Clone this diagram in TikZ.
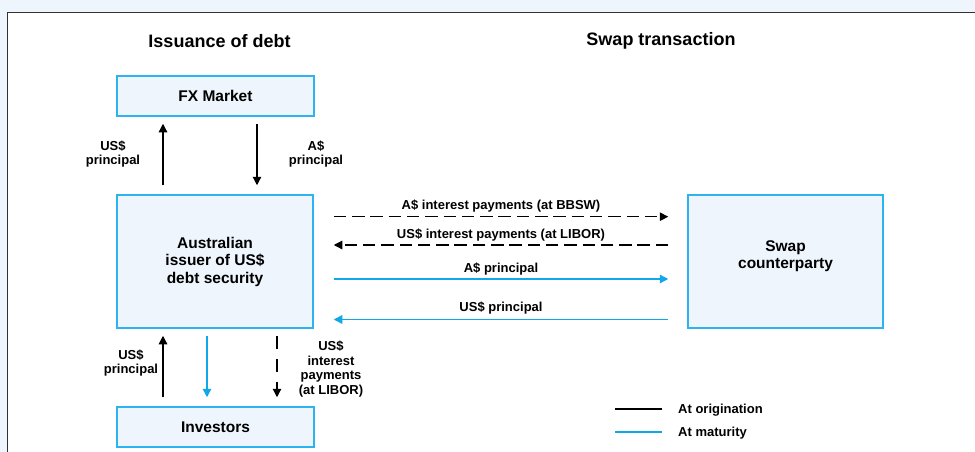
\documentclass[tikz,border=0pt]{standalone}
\usepackage{fontspec}
\setmainfont{Liberation Sans}
\usetikzlibrary{arrows.meta}
\definecolor{boxblue}{RGB}{45,180,240}
\definecolor{boxfill}{RGB}{238,245,252}
\definecolor{arrblue}{RGB}{16,168,233}
\definecolor{bgblue}{RGB}{238,245,252}
\definecolor{frame}{RGB}{50,50,50}
\tikzset{
  box/.style={draw=boxblue, fill=boxfill, line width=1.5pt, align=center, inner sep=0pt,
    font=\bfseries\fontsize{15.5}{17.5}\selectfont},
  boxtext/.style={align=center, inner sep=0pt, font=\bfseries\fontsize{15.5}{17.5}\selectfont},
  ttl/.style={font=\bfseries\fontsize{18}{20}\selectfont},
  lbl/.style={align=center, inner sep=0pt, font=\bfseries\fontsize{13}{14.6}\selectfont},
  tip/.style={-{Triangle[length=8.5pt,width=8.5pt]}},
  blk/.style={tip, line width=1.2pt, black},
  blu/.style={tip, line width=1.4pt, arrblue},
  dsh/.style={tip, line width=1.2pt, black, dash pattern=on 12.5pt off 5.8pt},
  vdsh/.style={tip, line width=1.2pt, black, dash pattern=on 13pt off 10pt},
  leg/.style={line width=2.6pt},
}
\begin{document}
\begin{tikzpicture}[x=1pt,y=-1pt]
\useasboundingbox (0,0) rectangle (975,452);
\fill[bgblue] (0,0) rectangle (975,452);
\begin{scope}
\clip (0,0) rectangle (975,452);
\draw[frame, fill=white, line width=1.2pt] (7.5,12.5) rectangle (990,470);
\end{scope}

\node[ttl] (t1) at (219.5,41) {Issuance of debt};
\node[ttl] (t2) at (661,41) {Swap transaction};

\node[box, minimum width=197pt, minimum height=40pt] (fx) at (215.5,96) {FX Market};
\node[box, minimum width=196pt, minimum height=133pt] (aus) at (215,261.5) {Australian\\issuer of US\$\\debt security};
\node[box, minimum width=195pt, minimum height=133pt] (swap) at (785.5,261.5) {};
\node[boxtext] (swapt) at (785.5,256) {Swap\\counterparty};
\node[box, minimum width=197pt, minimum height=40pt] (inv) at (215.5,427) {Investors};

% helper positions
\coordinate (xa) at (163,0);
\coordinate (xb) at (257,0);
\coordinate (xc) at (207,0);
\coordinate (xd) at (277,0);
\coordinate (ya) at (0,216.7);
\coordinate (yb) at (0,245);
\coordinate (yc) at (0,279);
\coordinate (yd) at (0,319.5);

% top arrows
\draw[blk, shorten <=9pt, shorten >=7pt] (aus.north -| xa) -- (fx.south -| xa);
\draw[blk, shorten <=7pt, shorten >=9pt] (fx.south -| xb) -- (aus.north -| xb);
\node[lbl] (l1) at (113,154) {US\$\\principal};
\node[lbl] (l2) at (316,154) {A\$\\principal};

% bottom arrows
\draw[blk, shorten <=9pt, shorten >=7pt] (inv.north -| xa) -- (aus.south -| xa);
\draw[blu, shorten <=7pt, shorten >=9pt] (aus.south -| xc) -- (inv.north -| xc);
\draw[vdsh, shorten <=7pt, shorten >=9pt] (aus.south -| xd) -- (inv.north -| xd);
\node[lbl] (l3) at (131,363) {US\$\\principal};
\node[lbl] (l4) at (331,369) {US\$\\interest\\payments\\(at LIBOR)};

% horizontal arrows
\draw[dsh, shorten <=20pt, shorten >=19pt] (aus.east |- ya) -- (swap.west |- ya);
\draw[dsh, shorten <=19pt, shorten >=20pt] (swap.west |- yb) -- (aus.east |- yb);
\draw[blu, shorten <=20pt, shorten >=19pt] (aus.east |- yc) -- (swap.west |- yc);
\draw[blu, shorten <=19pt, shorten >=20pt] (swap.west |- yd) -- (aus.east |- yd);
\node[lbl] (h1) at (501,206) {A\$ interest payments (at BBSW)};
\node[lbl] (h2) at (501,235.5) {US\$ interest payments (at LIBOR)};
\node[lbl] (h3) at (501,269) {A\$ principal};
\node[lbl] (h4) at (501,308.5) {US\$ principal};

% legend
\coordinate (g1a) at (615,409);
\coordinate (g1b) at (662,409);
\coordinate (g2a) at (615,432);
\coordinate (g2b) at (662,432);
\draw[leg, black] (g1a) -- (g1b);
\draw[leg, arrblue] (g2a) -- (g2b);
\node[lbl, anchor=west] (e1) at (678,410.5) {At origination};
\node[lbl, anchor=west] (e2) at (678,433) {At maturity};
\end{tikzpicture}
\end{document}
